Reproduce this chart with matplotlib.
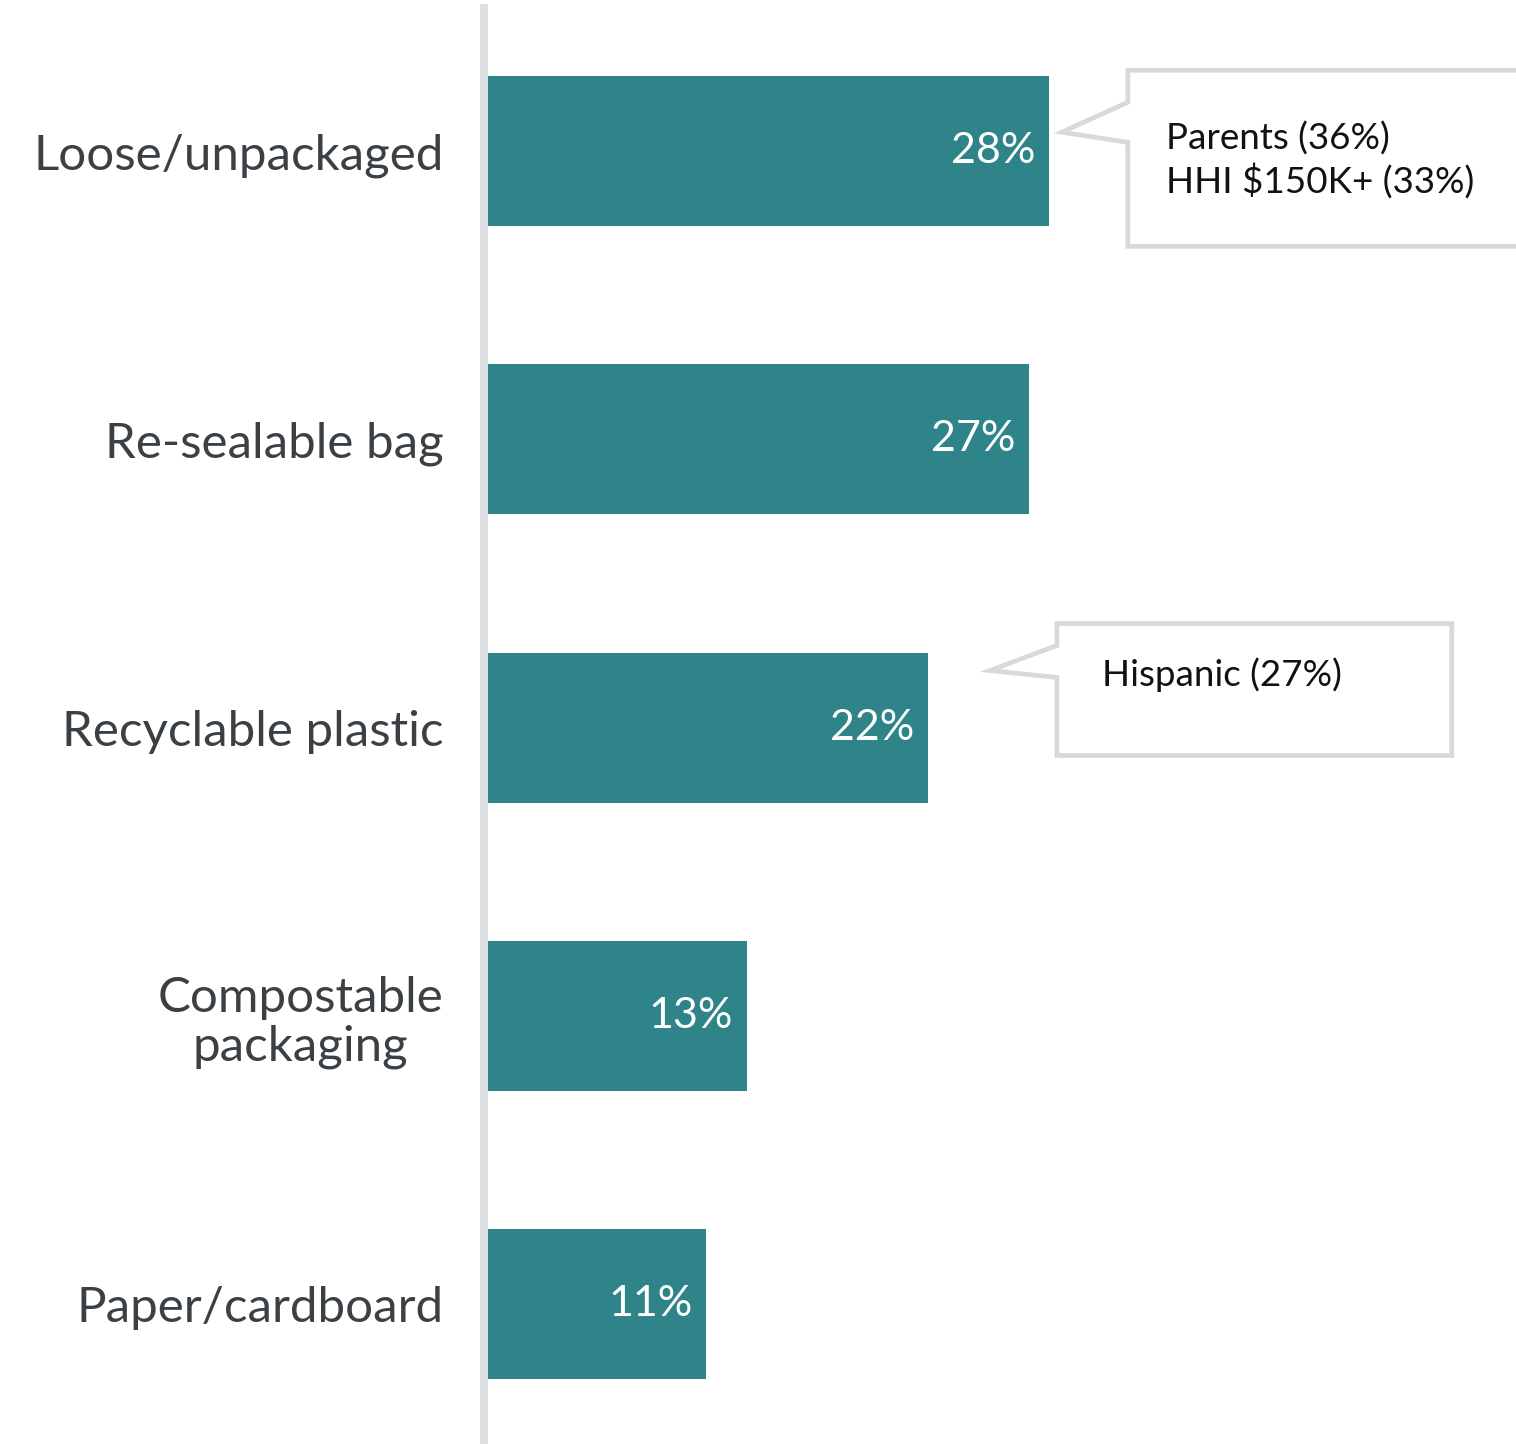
import matplotlib.pyplot as plt
from matplotlib.patches import Polygon

plt.rcParams['font.family'] = ['Lato', 'DejaVu Sans']

# packaging preference, share of respondents
categories = ['Loose/unpackaged', 'Re-sealable bag', 'Recyclable plastic',
              'Compostable\npackaging', 'Paper/cardboard']
values = [28, 27, 22, 13, 11]

# subgroup callouts: (category index, text)
callout_rows = [0, 2]
callout_texts = ['Parents (36%)\nHHI $150K+ (33%)', 'Hispanic (27%)']

bar_color = '#2E8489'
label_color = '#3B4045'
spine_color = '#DCE0E3'
box_color = '#D9D9D9'

fig = plt.figure(figsize=(15.16, 14.44), dpi=100)
ax = fig.add_axes([484 / 1516, 0, 1 - 484 / 1516, 1 - 8 / 1444])

ypos = list(range(len(categories)))
bars = ax.barh(ypos, values, height=0.52, color=bar_color, zorder=2)

ax.set_xlim(0, 51.1)
ax.set_ylim(4.486, -0.497)

for s in ['top', 'right', 'bottom']:
    ax.spines[s].set_visible(False)
ax.spines['left'].set_color(spine_color)
ax.spines['left'].set_linewidth(5.76)
ax.spines['left'].set_zorder(3)
ax.set_xticks([])
ax.set_yticks(ypos)
ax.set_yticklabels(categories, fontsize=35.5, color=label_color,
                   multialignment='center', linespacing=1.14)
ax.tick_params(axis='y', length=0, pad=29)

# value labels inside bar ends
for y, v in zip(ypos, values):
    ax.annotate(f'{v}%', xy=(v, y), xytext=(-10, 0), textcoords='offset points',
                ha='right', va='center', color='white', fontsize=31)

# speech-bubble callouts, drawn in data units
# (tip x, box left, box right, box top, box bottom, notch top, notch bottom, tip y)
shapes = [
    (28.61, 31.88, 53.0, -0.281, 0.330, -0.170, -0.031, -0.066),
    (25.05, 28.37, 47.92, 1.639, 2.097, 1.715, 1.826, 1.802),
]
text_pos = [(33.76, 0.03), (30.6, 1.816)]

for (tx, l, r, t, b, n1, n2, ty), (px, py), txt in zip(shapes, text_pos, callout_texts):
    pts = [(l, t), (r, t), (r, b), (l, b), (l, n2), (tx, ty), (l, n1)]
    poly = Polygon(pts, closed=True, facecolor='white', edgecolor=box_color,
                   linewidth=3.4, joinstyle='miter', clip_on=False, zorder=4)
    ax.add_patch(poly)
    ax.text(px, py, txt, ha='left', va='center', fontsize=26.5, color='#111111',
            linespacing=1.24, zorder=5, clip_on=False)

fig.savefig('out.png', dpi=100)
